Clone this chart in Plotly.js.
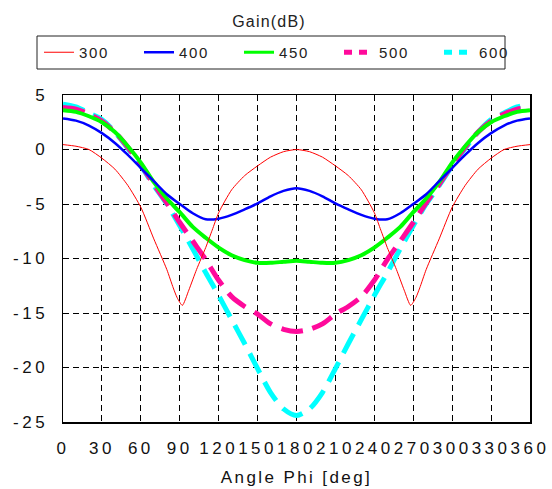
<!DOCTYPE html>
<html>
<head>
<meta charset="utf-8">
<script src="https://cdn.plot.ly/plotly-3.0.1.min.js"></script>
<style>
  html, body { margin: 0; padding: 0; background: #fff; }
  #chart { width: 552px; height: 489px; }
  .xtick text, .ytick text { letter-spacing: 3.5px; }
  .xtitle { letter-spacing: 2.4px; }
  .legendtext { letter-spacing: 1.6px; }
  .gtitle { letter-spacing: 1.2px; }
</style>
</head>
<body>
<div id="chart"></div>
<script>
// Angle Phi [deg]
const angles = [0,10,20,30,40,50,60,70,80,90,100,110,120,130,140,150,160,170,180,
                190,200,210,220,230,240,250,260,270,280,290,300,310,320,330,340,350,360];
const angles300 = [0,10,20,30,40,50,60,70,80,85,88,92,97,103,110,115,120,130,140,150,160,170,180,
                   190,200,210,220,230,240,245,250,257,263,268,272,275,280,290,300,310,320,330,340,350,360];

// Gain (dB) per frequency
const gain300 = [0.45,0.3,0.0,-0.8,-1.8,-3.3,-5.3,-8.2,-11.0,-12.7,-13.6,-14.3,-12.9,-11.0,-9.0,-7.4,-5.8,-3.7,-2.4,-1.5,-0.7,-0.2,0.0,
                 -0.2,-0.7,-1.5,-2.4,-3.7,-5.8,-7.4,-9.0,-11.0,-12.9,-14.3,-13.6,-12.7,-11.0,-8.2,-5.3,-3.3,-1.8,-0.8,0.0,0.3,0.45];
const gain400 = [2.85,2.65,2.2,1.5,0.6,-0.5,-1.7,-2.9,-4.1,-5.0,-5.85,-6.4,-6.35,-6.0,-5.5,-4.95,-4.3,-3.8,-3.55,
                 -3.8,-4.3,-4.95,-5.5,-6.0,-6.35,-6.4,-5.85,-5.0,-4.1,-2.9,-1.7,-0.5,0.6,1.5,2.2,2.65,2.85];
const gain450 = [3.6,3.45,3.05,2.5,1.6,0.3,-1.2,-3.0,-4.5,-5.75,-7.1,-8.1,-9.0,-9.7,-10.15,-10.4,-10.4,-10.3,-10.2,
                 -10.3,-10.4,-10.4,-10.15,-9.7,-9.0,-8.1,-7.1,-5.75,-4.5,-3.0,-1.2,0.3,1.6,2.5,3.05,3.45,3.6];
const gain500 = [3.85,3.7,3.25,2.6,1.6,0.2,-1.4,-3.2,-4.9,-6.7,-8.4,-10.1,-12.0,-13.5,-14.4,-15.1,-16.0,-16.5,-16.7,
                 -16.5,-16.0,-15.1,-14.4,-13.5,-12.0,-10.1,-8.4,-6.7,-4.9,-3.2,-1.4,0.2,1.6,2.6,3.25,3.7,3.85];
const gain600 = [4.15,3.9,3.35,2.75,1.6,0.1,-1.5,-3.3,-5.0,-7.0,-9.1,-11.3,-13.4,-15.6,-17.8,-20.1,-22.3,-23.8,-24.4,
                 -23.8,-22.3,-20.1,-17.8,-15.6,-13.4,-11.3,-9.1,-7.0,-5.0,-3.3,-1.5,0.1,1.6,2.75,3.35,3.9,4.15];

const seriesNames = ['300','400','450','500','600'];
const xTicks = [0,30,60,90,120,150,180,210,240,270,300,330,360];
const yTicks = [5,0,-5,-10,-15,-20,-25];

const colors = {'300':'#ff0000','400':'#0000ff','450':'#00ff00','500':'#ff0a9b','600':'#00ffff'};
const widths = {'300':1,'400':2.5,'450':4,'500':5,'600':5};

// plotted curves (drawn cyan first so the thinner ones sit on top)
const curves = [
  {name:'600', x:angles, y:gain600, dash:'22px,10px', smooth:0.8},
  {name:'500', x:angles, y:gain500, dash:'22px,10px', smooth:0.8},
  {name:'450', x:angles, y:gain450, dash:'solid', smooth:0.8},
  {name:'400', x:angles, y:gain400, dash:'solid', smooth:0.8},
  {name:'300', x:angles300, y:gain300, dash:'solid', smooth:0.6}
].map(c => ({
  name:c.name, x:c.x, y:c.y, mode:'lines', showlegend:false, legendgroup:c.name,
  line:{color:colors[c.name], width:widths[c.name], dash:c.dash, shape:'spline', smoothing:c.smooth}
}));

// legend entries (short-dash samples as in the original legend)
const legendEntries = seriesNames.map(n => ({
  name:n, x:[null], y:[null], mode:'lines', legendgroup:n, showlegend:true, hoverinfo:'skip',
  line:{color:colors[n], width:(n==='500'||n==='600') ? 5 : Math.min(widths[n], 3),
        dash:(n==='500'||n==='600') ? '8px,7px' : 'solid'}
}));

const tickFont = {family:'Liberation Sans, Arial, sans-serif', size:17, color:'#111'};

const layout = {
  width:552, height:489,
  margin:{l:63, r:22, t:95, b:67, pad:0},
  paper_bgcolor:'#ffffff', plot_bgcolor:'#ffffff',
  showlegend:true,
  title:{text:'Gain(dB)', font:{family:'Liberation Sans, Arial, sans-serif', size:16, color:'#222'},
         x:269/552, xanchor:'center', xref:'container', y:1-21/489, yanchor:'middle', yref:'container'},
  legend:{orientation:'h', traceorder:'normal', x:(39-63)/467, xanchor:'left', y:1.13, yanchor:'middle',
          font:{family:'Liberation Sans, Arial, sans-serif', size:15, color:'#222'},
          bgcolor:'rgba(0,0,0,0)', borderwidth:0, entrywidth:55, entrywidthmode:'pixels', itemwidth:30},
  xaxis:{range:[0,360], tickvals:xTicks, ticktext:xTicks.map(String), tickfont:tickFont,
         ticks:'outside', ticklen:10, tickcolor:'rgba(0,0,0,0)',
         showgrid:true, gridcolor:'#000', gridwidth:1, griddash:'6px,4px', zeroline:false,
         showline:true, linecolor:'#000', linewidth:1.5, mirror:true, fixedrange:true,
         title:{text:'Angle Phi [deg]', font:{family:'Liberation Sans, Arial, sans-serif', size:17, color:'#111'}, standoff:14}},
  yaxis:{range:[-25,5], tickvals:yTicks, ticktext:yTicks.map(String), tickfont:tickFont,
         ticks:'outside', ticklen:10, tickcolor:'rgba(0,0,0,0)',
         showgrid:true, gridcolor:'#000', gridwidth:1, griddash:'6px,4px', zeroline:false,
         showline:true, linecolor:'#000', linewidth:1.5, mirror:true, fixedrange:true},
  shapes:[{type:'rect', xref:'paper', yref:'paper', x0:(37-63)/467, x1:(505-63)/467, y0:(422-69)/327, y1:(422-36)/327,
           line:{color:'#222', width:1}, fillcolor:'rgba(0,0,0,0)'}]
};

Plotly.newPlot('chart', curves.concat(legendEntries), layout, {displayModeBar:false, staticPlot:true});
</script>
</body>
</html>
